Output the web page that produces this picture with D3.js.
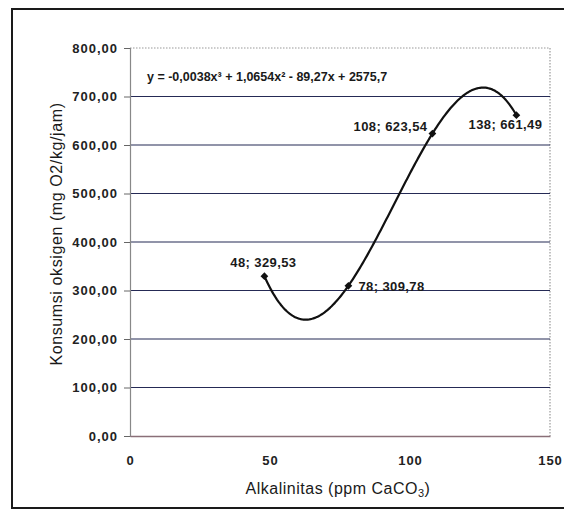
<!DOCTYPE html>
<html>
<head>
<meta charset="utf-8">
<script src="https://cdn.jsdelivr.net/npm/d3@7"></script>
<style>
  body { margin: 0; background: #fff; }
  svg { display: block; font-family: "Liberation Sans", Arial, sans-serif; }
</style>
</head>
<body>
<div id="chart"></div>
<script>
// data
var alkalinitas = [48, 78, 108, 138];
var konsumsi = [329.53, 309.78, 623.54, 661.49];
var xTicks = [0, 50, 100, 150];
var yTicks = [0, 100, 200, 300, 400, 500, 600, 700, 800];
var equation = "y = -0,0038x\u00B3 + 1,0654x\u00B2 - 89,27x + 2575,7";

// where each data label sits relative to its point
var labelSide = ["above", "right", "left", "below"];

var W = 564, H = 510;
var margin = {top: 48, right: 14, bottom: 74, left: 130},
    width = 550 - margin.left,
    height = 436 - margin.top;

var locale = d3.formatLocale({decimal: ",", thousands: ".", grouping: [3], currency: ["", ""]});
var fmt2 = locale.format(".2f");

var svg = d3.select("#chart").append("svg")
    .attr("width", W)
    .attr("height", H);

// outer frame of the chart object
svg.append("path")
    .attr("d", "M 570 9 L 12 9 L 12 508 L 570 508")
    .attr("fill", "none")
    .attr("stroke", "#1a1a1a")
    .attr("stroke-width", 2);

var g = svg.append("g")
    .attr("transform", "translate(" + margin.left + "," + margin.top + ")");

var scX = d3.scaleLinear().domain([0, 150]).range([0, width]);
var scY = d3.scaleLinear().domain([0, 800]).range([height, 0]);

// plot area border (dotted top + right)
g.append("path")
    .attr("d", "M 0 0 L " + width + " 0 L " + width + " " + height)
    .attr("fill", "none")
    .attr("stroke", "#999")
    .attr("stroke-width", 1.2)
    .attr("stroke-dasharray", "1.5,1.5");

// Gridlines
g.selectAll(".grid")
    .data(yTicks.filter(d => d > 0 && d < 800))
    .enter()
    .append("line")
    .attr("class", "grid")
    .attr("x1", 0)
    .attr("x2", width)
    .attr("y1", d => scY(d))
    .attr("y2", d => scY(d))
    .attr("stroke", "#252a55")
    .attr("stroke-width", 1.2);

// Y axis
var yAxis = d3.axisLeft(scY)
    .tickValues(yTicks)
    .tickSize(6)
    .tickPadding(6)
    .tickFormat(fmt2);
var gy = g.append("g").call(yAxis);
gy.select(".domain").attr("stroke", "#888").attr("stroke-width", 1.2);
gy.selectAll(".tick line").attr("stroke", "#666");
gy.selectAll(".tick text")
    .attr("font-family", "Liberation Sans, Arial, sans-serif")
    .attr("font-size", "13px")
    .attr("font-weight", "bold")
    .attr("letter-spacing", "1px")
    .attr("fill", "#222");

// X axis
var xAxis = d3.axisBottom(scX)
    .tickValues(xTicks)
    .tickSize(0)
    .tickPadding(20)
    .tickFormat(d3.format("d"));
var gx = g.append("g")
    .attr("transform", "translate(0," + height + ")")
    .call(xAxis);
gx.select(".domain").attr("stroke", "#8a6f78").attr("stroke-width", 1.3);
gx.selectAll(".tick text")
    .attr("font-family", "Liberation Sans, Arial, sans-serif")
    .attr("font-size", "13px")
    .attr("font-weight", "bold")
    .attr("letter-spacing", "1px")
    .attr("fill", "#222");

// order-3 polynomial trendline fitted to the four points (exact fit through them)
function trend(x) {
    var s = 0;
    for (var i = 0; i < alkalinitas.length; i++) {
        var t = konsumsi[i];
        for (var j = 0; j < alkalinitas.length; j++) {
            if (j !== i) t *= (x - alkalinitas[j]) / (alkalinitas[i] - alkalinitas[j]);
        }
        s += t;
    }
    return s;
}
var xs = d3.range(d3.min(alkalinitas), d3.max(alkalinitas) + 0.5, 0.5);
var line = d3.line()
    .x(d => scX(d))
    .y(d => scY(trend(d)))
    .curve(d3.curveLinear);
g.append("path")
    .datum(xs)
    .attr("d", line)
    .attr("fill", "none")
    .attr("stroke", "#111")
    .attr("stroke-width", 2.2)
    .attr("stroke-linejoin", "round");

// Markers (rotated squares)
var pts = alkalinitas.map((x, i) => ({x: x, y: konsumsi[i], side: labelSide[i]}));
g.selectAll(".pt")
    .data(pts)
    .enter()
    .append("path")
    .attr("class", "pt")
    .attr("d", d3.symbol().type(d3.symbolSquare).size(30))
    .attr("transform", d => "translate(" + scX(d.x) + "," + scY(d.y) + ") rotate(45)")
    .attr("fill", "#111");

// Data labels
var lab = g.selectAll(".lab")
    .data(pts)
    .enter()
    .append("text")
    .attr("class", "lab")
    .attr("font-size", "13px")
    .attr("font-weight", "bold")
    .attr("letter-spacing", "0.4px")
    .attr("fill", "#1a1a1a")
    .text(d => d.x + "; " + fmt2(d.y));
lab.each(function (d) {
    var t = d3.select(this), px = scX(d.x), py = scY(d.y);
    if (d.side === "above") t.attr("x", px - 1).attr("y", py - 9).attr("text-anchor", "middle");
    if (d.side === "right") t.attr("x", px + 10).attr("y", py + 5).attr("text-anchor", "start");
    if (d.side === "left") t.attr("x", px - 5).attr("y", py - 3).attr("text-anchor", "end");
    if (d.side === "below") t.attr("x", px - 11).attr("y", py + 14).attr("text-anchor", "middle");
});

// Trendline equation
g.append("text")
    .attr("x", 17)
    .attr("y", 33)
    .attr("font-size", "12.5px")
    .attr("font-weight", "bold")
    .attr("fill", "#1a1a1a")
    .text(equation);

// Axis titles
var xt = svg.append("text")
    .attr("x", 338)
    .attr("y", 494)
    .attr("text-anchor", "middle")
    .attr("font-size", "16px")
    .attr("letter-spacing", "0.5px")
    .attr("fill", "#1a1a1a")
    .text("Alkalinitas (ppm CaCO");
xt.append("tspan").attr("font-size", "11px").attr("dy", 3).text("3");
xt.append("tspan").attr("dy", -3).text(")");

svg.append("text")
    .attr("transform", "translate(62,234) rotate(-90)")
    .attr("text-anchor", "middle")
    .attr("font-size", "16px")
    .attr("letter-spacing", "0.6px")
    .attr("fill", "#1a1a1a")
    .text("Konsumsi oksigen (mg O2/kg/jam)");
</script>
</body>
</html>
